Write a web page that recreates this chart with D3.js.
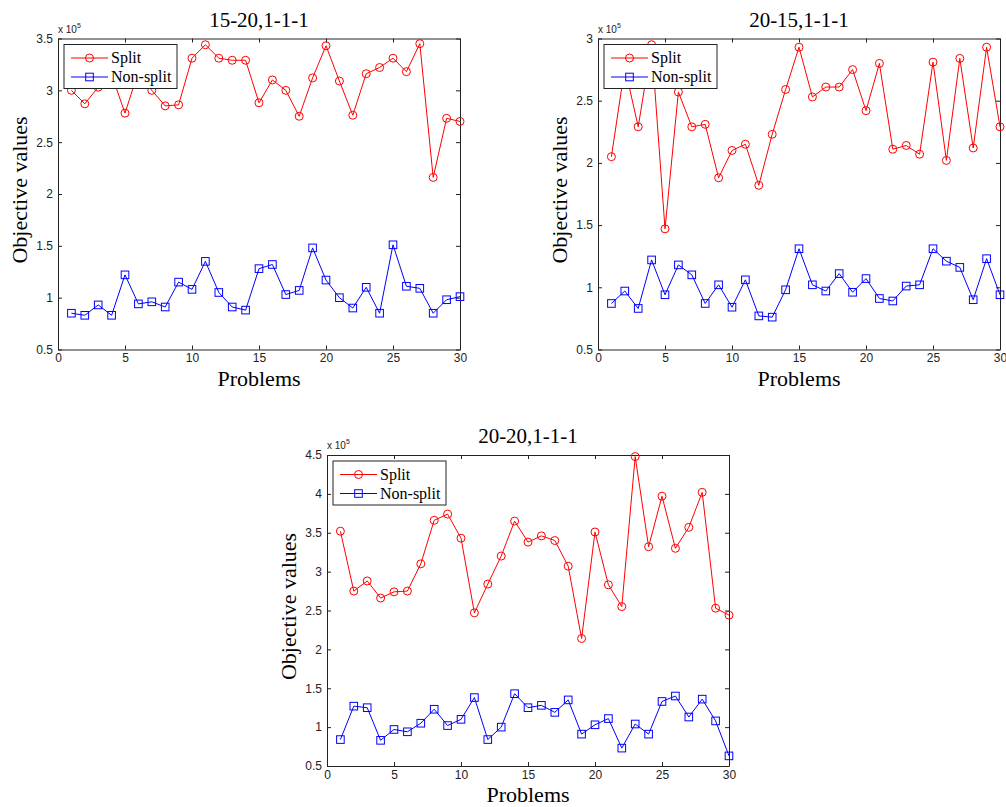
<!DOCTYPE html>
<html>
<head>
<meta charset="utf-8">
<script src="https://cdn.jsdelivr.net/npm/d3@7"></script>
<style>
  body { margin: 0; background: #fff; }
  .tick text { font-family: "Liberation Sans", Arial, sans-serif; font-size: 12px; fill: #222; }
  .axis path, .axis line { stroke: #222; }
  .serif { font-family: "Liberation Serif", "Times New Roman", serif; fill: #000; }
</style>
</head>
<body>
<div id="fig"></div>
<script>
// problem numbers on the x axis
var problems = d3.range(1, 31);
var xTicks = [0, 5, 10, 15, 20, 25, 30];

// values are in units of 10^5
var titles = ["15-20,1-1-1", "20-15,1-1-1", "20-20,1-1-1"];

var split1 = [3.00, 2.87, 3.03, 3.15, 2.78, 3.18, 3.00, 2.85, 2.86, 3.31, 3.44, 3.31, 3.29, 3.29, 2.88,
              3.10, 3.00, 2.75, 3.12, 3.43, 3.09, 2.76, 3.16, 3.22, 3.31, 3.18, 3.45, 2.16, 2.73, 2.70];
var nonSplit1 = [0.85, 0.83, 0.93, 0.83, 1.22, 0.94, 0.96, 0.91, 1.15, 1.08, 1.35, 1.05, 0.91, 0.88, 1.28,
                 1.32, 1.03, 1.07, 1.48, 1.17, 1.00, 0.90, 1.10, 0.85, 1.51, 1.11, 1.09, 0.85, 0.98, 1.01];
var yTicks1 = [0.5, 1, 1.5, 2, 2.5, 3, 3.5];

var split2 = [2.05, 2.77, 2.29, 2.95, 1.47, 2.57, 2.29, 2.31, 1.88, 2.10, 2.15, 1.82, 2.23, 2.59, 2.93,
              2.53, 2.61, 2.61, 2.75, 2.42, 2.80, 2.11, 2.14, 2.07, 2.81, 2.02, 2.84, 2.12, 2.93, 2.29];
var nonSplit2 = [0.87, 0.97, 0.83, 1.22, 0.94, 1.18, 1.10, 0.87, 1.02, 0.84, 1.06, 0.77, 0.76, 0.98, 1.31,
                 1.02, 0.97, 1.11, 0.96, 1.07, 0.91, 0.89, 1.01, 1.02, 1.31, 1.21, 1.16, 0.90, 1.23, 0.94];
var yTicks2 = [0.5, 1, 1.5, 2, 2.5, 3];

var split3 = [3.52, 2.75, 2.88, 2.66, 2.74, 2.75, 3.10, 3.66, 3.74, 3.43, 2.47, 2.84, 3.20, 3.65, 3.38,
              3.46, 3.40, 3.07, 2.14, 3.51, 2.83, 2.55, 4.48, 3.32, 3.97, 3.30, 3.57, 4.02, 2.53, 2.44];
var nonSplit3 = [0.84, 1.27, 1.25, 0.83, 0.97, 0.94, 1.05, 1.23, 1.02, 1.10, 1.38, 0.84, 1.00, 1.43, 1.25,
                 1.28, 1.19, 1.35, 0.91, 1.03, 1.11, 0.73, 1.04, 0.91, 1.33, 1.40, 1.13, 1.36, 1.08, 0.63];
var yTicks3 = [0.5, 1, 1.5, 2, 2.5, 3, 3.5, 4, 4.5];

var seriesNames = ["Split", "Non-split"];

var svg = d3.select("#fig").append("svg")
    .attr("width", 1006)
    .attr("height", 807);

var width = 402, height = 311;

function drawPanel(title, left, top, yTicks, splitVals, nonSplitVals) {
  var g = svg.append("g").attr("transform", "translate(" + left + "," + top + ")");

  var x = d3.scaleLinear().domain([0, 30]).range([0, width]);
  var y = d3.scaleLinear().domain([yTicks[0], yTicks[yTicks.length - 1]]).range([height, 0]);

  // box with inward ticks on all four sides (matlab style)
  g.append("g").attr("class", "axis")
    .attr("transform", "translate(0," + height + ")")
    .call(d3.axisBottom(x).tickValues(xTicks).tickSizeInner(-4).tickSizeOuter(0).tickPadding(4));
  g.append("g").attr("class", "axis")
    .call(d3.axisTop(x).tickValues(xTicks).tickSizeInner(-4).tickSizeOuter(0).tickFormat(""));
  g.append("g").attr("class", "axis")
    .call(d3.axisLeft(y).tickValues(yTicks).tickSizeInner(-4).tickSizeOuter(0).tickPadding(5)
      .tickFormat(d3.format("")));
  g.append("g").attr("class", "axis")
    .attr("transform", "translate(" + width + ",0)")
    .call(d3.axisRight(y).tickValues(yTicks).tickSizeInner(-4).tickSizeOuter(0).tickFormat(""));

  // x 10^5 multiplier
  var ex = g.append("text")
    .attr("x", 0).attr("y", -6)
    .style("font-family", "Liberation Sans, Arial, sans-serif")
    .style("font-size", "10px").style("fill", "#222")
    .text("x 10");
  ex.append("tspan").attr("dy", -5).style("font-size", "7px").text("5");

  // title and axis labels
  g.append("text").attr("class", "serif")
    .attr("x", width / 2).attr("y", -12)
    .attr("text-anchor", "middle")
    .style("font-size", "21px")
    .text(title);
  g.append("text").attr("class", "serif")
    .attr("x", width / 2).attr("y", height + 36)
    .attr("text-anchor", "middle")
    .style("font-size", "22px")
    .text("Problems");
  g.append("text").attr("class", "serif")
    .attr("transform", "rotate(-90)")
    .attr("x", -height / 2 + 4).attr("y", -31)
    .attr("text-anchor", "middle")
    .style("font-size", "22px")
    .text("Objective values");

  var line = d3.line()
    .x(function(d, i) { return x(problems[i]); })
    .y(function(d) { return y(d); });

  // split series, red circles
  g.append("path").datum(splitVals)
    .attr("d", line).attr("fill", "none").attr("stroke", "#f00").attr("stroke-width", 1);
  g.selectAll(".circ").data(splitVals).enter().append("circle")
    .attr("cx", function(d, i) { return x(problems[i]); })
    .attr("cy", function(d) { return y(d); })
    .attr("r", 4)
    .attr("fill", "none").attr("stroke", "#f00").attr("stroke-width", 1);

  // non-split series, blue squares
  g.append("path").datum(nonSplitVals)
    .attr("d", line).attr("fill", "none").attr("stroke", "#00f").attr("stroke-width", 1);
  g.selectAll(".sq").data(nonSplitVals).enter().append("rect")
    .attr("x", function(d, i) { return x(problems[i]) - 3.8; })
    .attr("y", function(d) { return y(d) - 3.8; })
    .attr("width", 7.6).attr("height", 7.6)
    .attr("fill", "none").attr("stroke", "#00f").attr("stroke-width", 1);

  // legend
  var lg = g.append("g").attr("transform", "translate(6,6)");
  lg.append("rect")
    .attr("width", 113).attr("height", 44)
    .attr("fill", "#fff").attr("stroke", "#222").attr("stroke-width", 1);
  var colors = ["#f00", "#00f"];
  seriesNames.forEach(function(name, k) {
    var ly = k == 0 ? 13.5 : 32.5;
    lg.append("line")
      .attr("x1", 7).attr("x2", 44).attr("y1", ly).attr("y2", ly)
      .attr("stroke", colors[k]).attr("stroke-width", 1);
    if (k == 0) {
      lg.append("circle").attr("cx", 25.5).attr("cy", ly).attr("r", 4)
        .attr("fill", "none").attr("stroke", colors[k]);
    } else {
      lg.append("rect").attr("x", 25.5 - 3.8).attr("y", ly - 3.8)
        .attr("width", 7.6).attr("height", 7.6)
        .attr("fill", "none").attr("stroke", colors[k]);
    }
    lg.append("text").attr("class", "serif")
      .attr("x", 47).attr("y", ly + 5)
      .style("font-size", "16px")
      .text(name);
  });
}

drawPanel(titles[0], 58, 38.5, yTicks1, split1, nonSplit1);
drawPanel(titles[1], 598, 38.5, yTicks2, split2, nonSplit2);
drawPanel(titles[2], 327, 455, yTicks3, split3, nonSplit3);
</script>
</body>
</html>
